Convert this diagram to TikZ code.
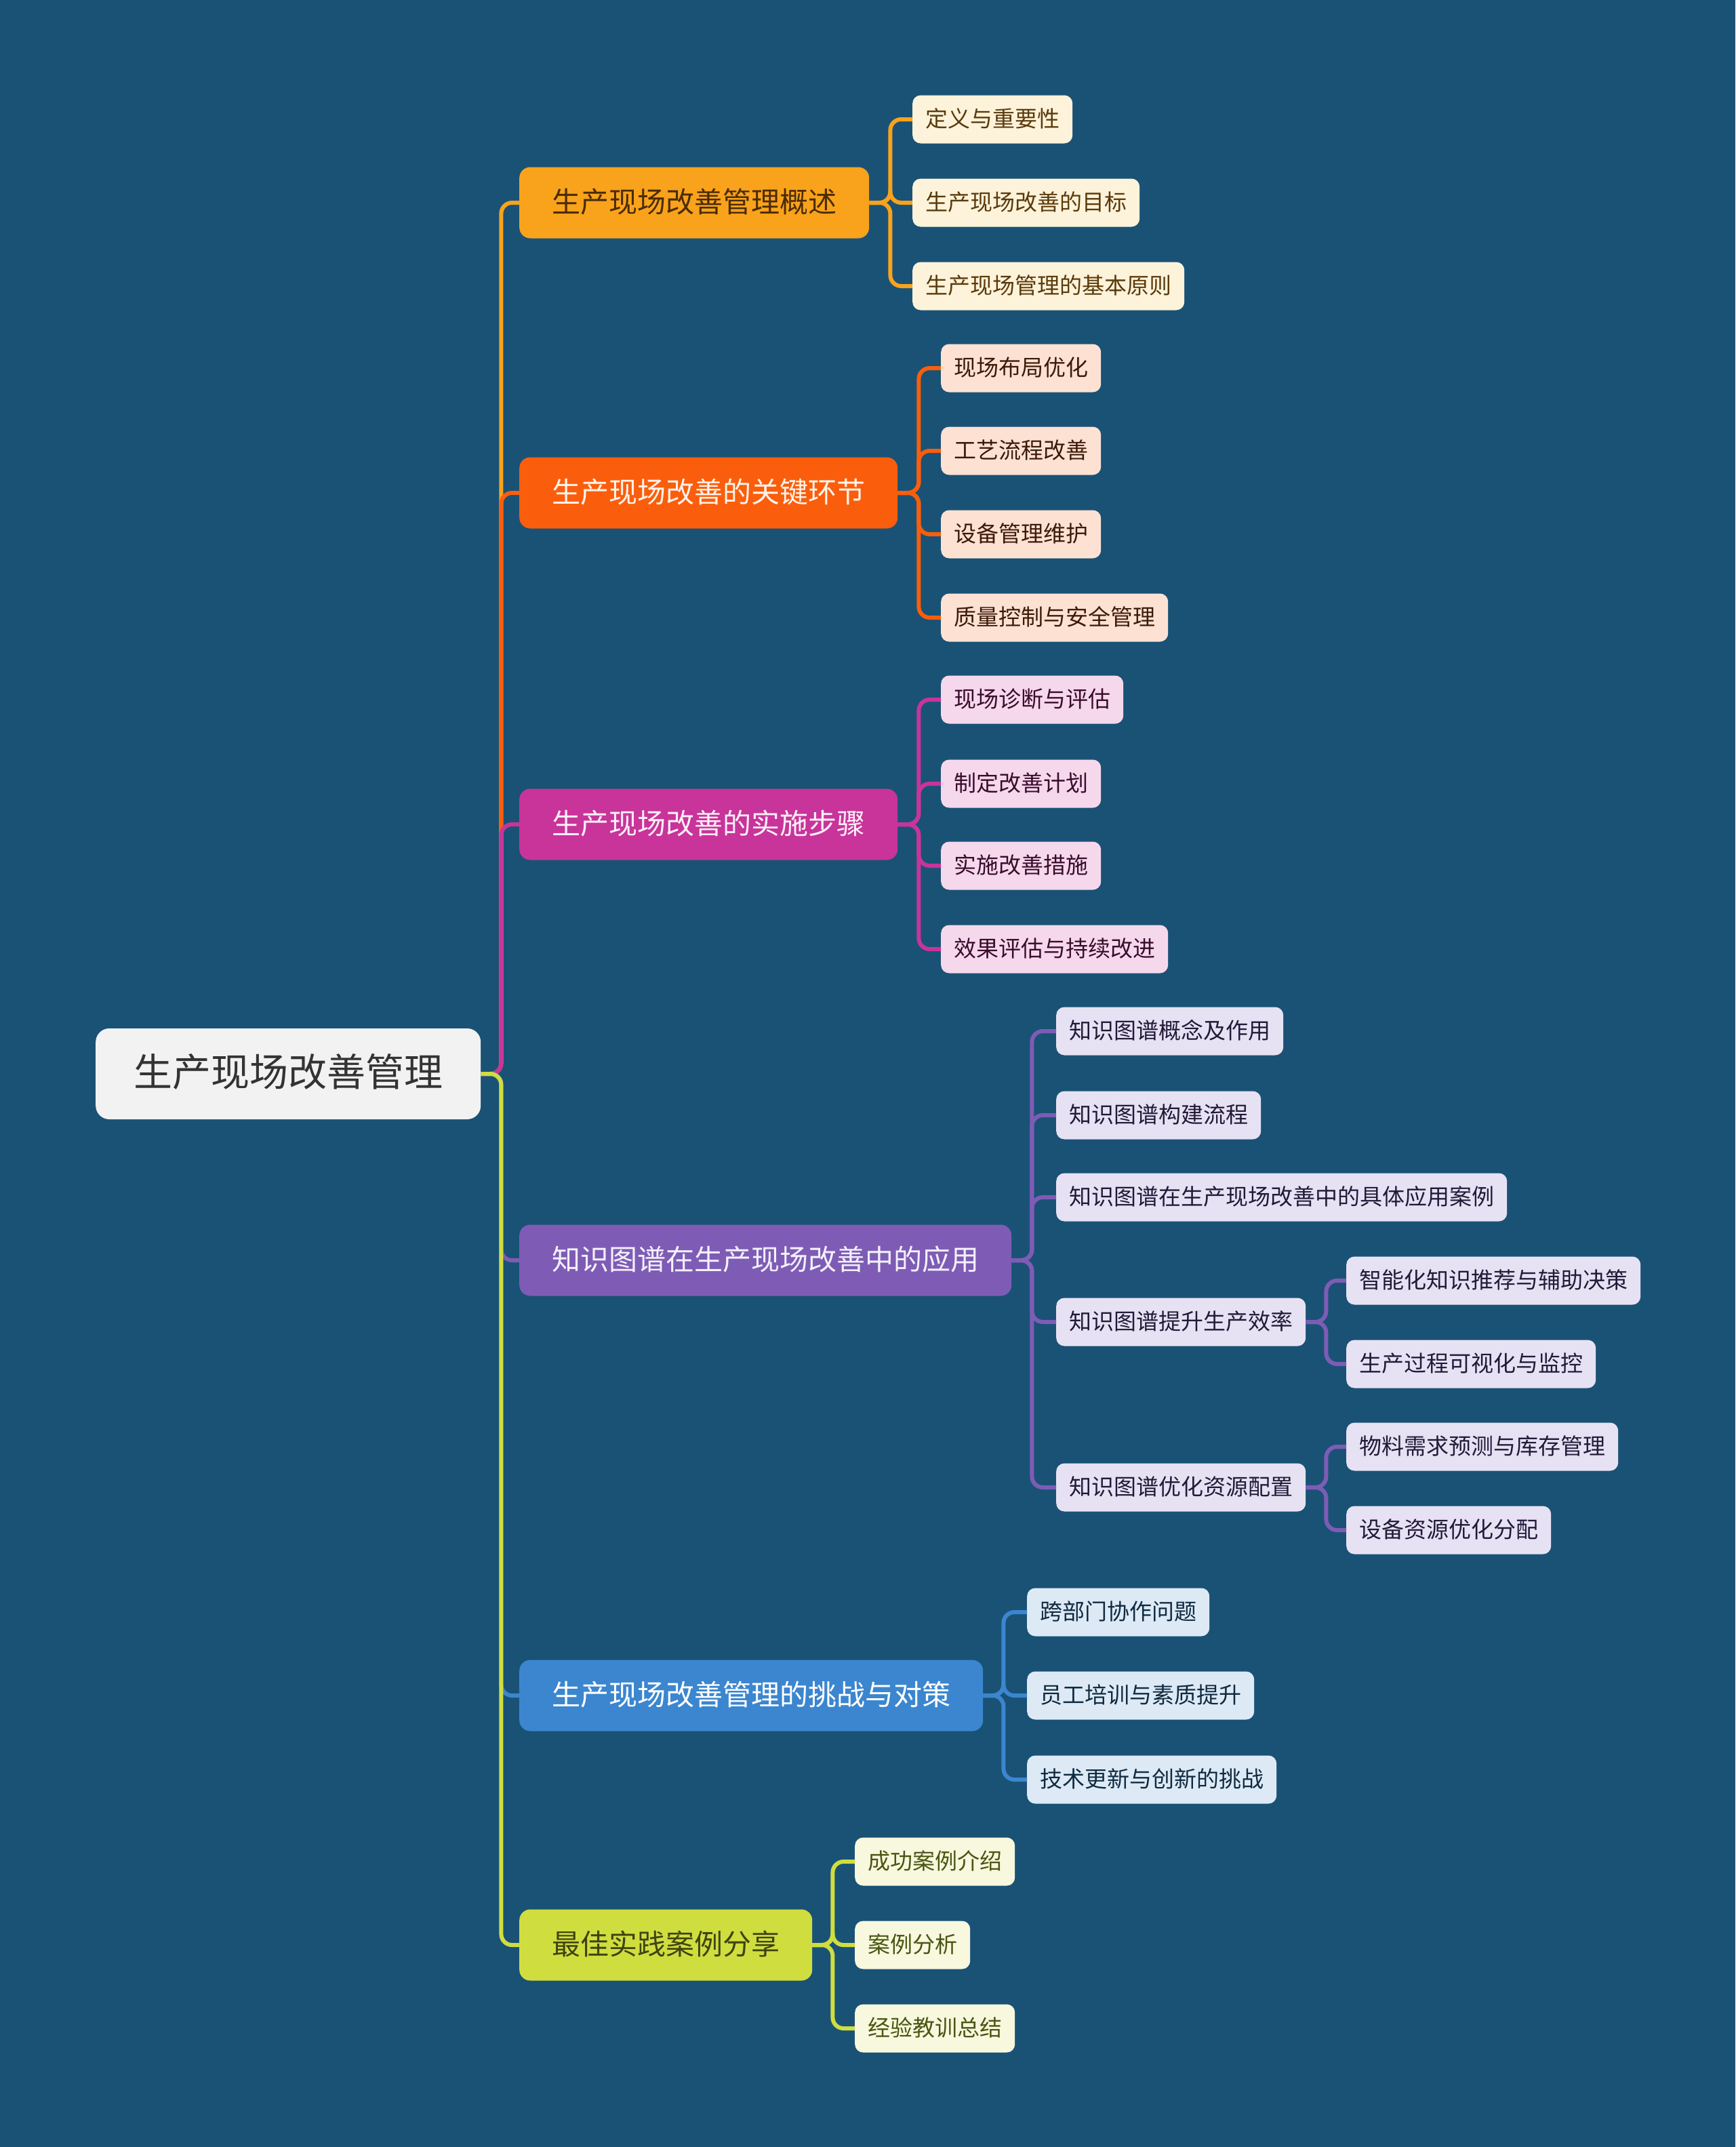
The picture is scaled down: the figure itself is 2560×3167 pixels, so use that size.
\documentclass[tikz,border=0pt]{standalone}
\usepackage{fontspec}
\setmainfont{Noto Sans CJK SC}
\definecolor{bg}{HTML}{1A5276}
\definecolor{rootf}{HTML}{F2F2F2}\definecolor{roott}{HTML}{333333}
\definecolor{o1}{HTML}{F9A21B}\definecolor{o1t}{HTML}{4A2C05}\definecolor{o1f}{HTML}{FDF3DA}\definecolor{o1c}{HTML}{5B3A0C}
\definecolor{o2}{HTML}{FA5E0C}\definecolor{o2t}{HTML}{FFF3EA}\definecolor{o2f}{HTML}{FDE2D3}\definecolor{o2c}{HTML}{3E1A08}
\definecolor{o3}{HTML}{C8349A}\definecolor{o3t}{HTML}{FDEFF8}\definecolor{o3f}{HTML}{F6D8EC}\definecolor{o3c}{HTML}{3A0C2C}
\definecolor{o4}{HTML}{7E5CB5}\definecolor{o4t}{HTML}{F3F0FB}\definecolor{o4f}{HTML}{E7E2F3}\definecolor{o4c}{HTML}{221A38}
\definecolor{o5}{HTML}{3B86CF}\definecolor{o5t}{HTML}{FFFFFF}\definecolor{o5f}{HTML}{DDEAF6}\definecolor{o5c}{HTML}{102A40}
\definecolor{o6}{HTML}{D0DD3F}\definecolor{o6t}{HTML}{3E4410}\definecolor{o6f}{HTML}{F7F8DD}\definecolor{o6c}{HTML}{4A5512}
\begin{document}
\begin{tikzpicture}[x=1pt,y=-1pt,
  rootbox/.style={fill=rootf,text=roott,rounded corners=20,font=\fontsize{57}{60}\selectfont,inner xsep=56,inner ysep=0,minimum height=134,text height=47,text depth=10,anchor=west},
  lone/.style={rounded corners=16,font=\fontsize{42}{46}\selectfont,inner xsep=48,inner ysep=0,minimum height=105,text height=35,text depth=7,anchor=west},
  ltwo/.style={rounded corners=12,font=\fontsize{33}{36}\selectfont,inner xsep=19,inner ysep=0,minimum height=71,text height=27.5,text depth=5.5,anchor=west},
  conn/.style={line width=6,rounded corners=16}]
\fill[bg] (0,0) rectangle (2560,3167);
\useasboundingbox (0,0) rectangle (2560,3167);
% nodes
\node[rootbox] (root) at (141,1584) {生产现场改善管理};
\node[lone,fill=o1,text=o1t] (b1) at (766,299) {生产现场改善管理概述};
\node[lone,fill=o2,text=o2t] (b2) at (766,727) {生产现场改善的关键环节};
\node[lone,fill=o3,text=o3t] (b3) at (766,1216) {生产现场改善的实施步骤};
\node[lone,fill=o4,text=o4t] (b4) at (766,1859) {知识图谱在生产现场改善中的应用};
\node[lone,fill=o5,text=o5t] (b5) at (766,2501) {生产现场改善管理的挑战与对策};
\node[lone,fill=o6,text=o6t] (b6) at (766,2869) {最佳实践案例分享};
\begin{scope}[every node/.style={ltwo,fill=o1f,text=o1c}]
\node (c11) at (1346,176) {定义与重要性};
\node (c12) at (1346,299) {生产现场改善的目标};
\node (c13) at (1346,422) {生产现场管理的基本原则};
\end{scope}
\begin{scope}[every node/.style={ltwo,fill=o2f,text=o2c}]
\node (c21) at (1388,543) {现场布局优化};
\node (c22) at (1388,665) {工艺流程改善};
\node (c23) at (1388,788) {设备管理维护};
\node (c24) at (1388,911) {质量控制与安全管理};
\end{scope}
\begin{scope}[every node/.style={ltwo,fill=o3f,text=o3c}]
\node (c31) at (1388,1032) {现场诊断与评估};
\node (c32) at (1388,1156) {制定改善计划};
\node (c33) at (1388,1277) {实施改善措施};
\node (c34) at (1388,1400) {效果评估与持续改进};
\end{scope}
\begin{scope}[every node/.style={ltwo,fill=o4f,text=o4c}]
\node (c41) at (1558,1521) {知识图谱概念及作用};
\node (c42) at (1558,1645) {知识图谱构建流程};
\node (c43) at (1558,1766) {知识图谱在生产现场改善中的具体应用案例};
\node (c44) at (1558,1950) {知识图谱提升生产效率};
\node (c45) at (1558,2194) {知识图谱优化资源配置};
\node (d1) at (1986,1889) {智能化知识推荐与辅助决策};
\node (d2) at (1986,2012) {生产过程可视化与监控};
\node (d3) at (1986,2134) {物料需求预测与库存管理};
\node (d4) at (1986,2257) {设备资源优化分配};
\end{scope}
\begin{scope}[every node/.style={ltwo,fill=o5f,text=o5c}]
\node (c51) at (1515,2378) {跨部门协作问题};
\node (c52) at (1515,2501) {员工培训与素质提升};
\node (c53) at (1515,2625) {技术更新与创新的挑战};
\end{scope}
\begin{scope}[every node/.style={ltwo,fill=o6f,text=o6c}]
\node (c61) at (1261,2746) {成功案例介绍};
\node (c62) at (1261,2869) {案例分析};
\node (c63) at (1261,2992) {经验教训总结};
\end{scope}
% connectors
\begin{scope}[on background layer/.style={}]
\draw[conn,o1] (root.east) -- ++(30,0) |- (b1.west);
\draw[conn,o2] (root.east) -- ++(30,0) |- (b2.west);
\draw[conn,o3] (root.east) -- ++(30,0) |- (b3.west);
\draw[conn,o4] (root.east) -- ++(30,0) |- (b4.west);
\draw[conn,o5] (root.east) -- ++(30,0) |- (b5.west);
\draw[conn,o6] (root.east) -- ++(30,0) |- (b6.west);
\foreach \c in {c11,c12,c13} \draw[conn,o1] (b1.east) -- ++(31,0) |- (\c.west);
\foreach \c in {c21,c22,c23,c24} \draw[conn,o2] (b2.east) -- ++(31,0) |- (\c.west);
\foreach \c in {c31,c32,c33,c34} \draw[conn,o3] (b3.east) -- ++(31,0) |- (\c.west);
\foreach \c in {c41,c42,c43,c44,c45} \draw[conn,o4] (b4.east) -- ++(30,0) |- (\c.west);
\foreach \c in {d1,d2} \draw[conn,o4] (c44.east) -- ++(30,0) |- (\c.west);
\foreach \c in {d3,d4} \draw[conn,o4] (c45.east) -- ++(30,0) |- (\c.west);
\foreach \c in {c51,c52,c53} \draw[conn,o5] (b5.east) -- ++(30,0) |- (\c.west);
\foreach \c in {c61,c62,c63} \draw[conn,o6] (b6.east) -- ++(30,0) |- (\c.west);
\end{scope}
\end{tikzpicture}
\end{document}
